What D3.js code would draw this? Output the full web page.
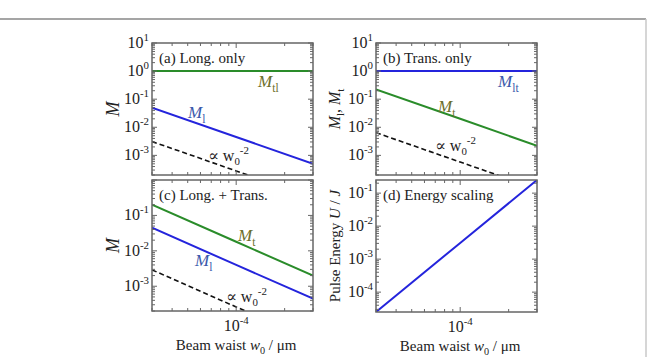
<!DOCTYPE html>
<html>
<head>
<meta charset="utf-8">
<script src="https://cdn.jsdelivr.net/npm/d3@7"></script>
<style>
  html, body { margin: 0; padding: 0; background: #fff; }
  svg { display: block; font-family: "Liberation Serif", "DejaVu Serif", serif; }
</style>
</head>
<body>
<svg id="chart" width="647" height="357"></svg>
<script>
// beam waist samples (x axis, shared by all panels)
const waist = [3e-5, 1e-4, 3e-4];
const xTickLabels = [1e-4];

// (a) longitudinal only
const longOnlyMtl = [1, 1, 1];
const longOnlyMl = [0.05, 4.5e-3, 5e-4];
const longOnlyRef = [3.1e-3, 2.8e-4, 3.1e-5];

// (b) transverse only
const transOnlyMlt = [1, 1, 1];
const transOnlyMt = [0.22, 0.02, 2.2e-3];
const transOnlyRef = [6.4e-3, 5.8e-4, 6.4e-5];

// (c) longitudinal + transverse
const combinedMt = [0.2, 0.018, 2e-3];
const combinedMl = [0.045, 4e-3, 4.5e-4];
const combinedRef = [2.9e-3, 2.6e-4, 2.9e-5];

// (d) energy scaling
const pulseEnergy = [2.5e-5, 3.1e-3, 0.25];

const yTicksTop = [1e1, 1e0, 1e-1, 1e-2, 1e-3];
const yTicksC = [1e-1, 1e-2, 1e-3];
const yTicksD = [1e-1, 1e-2, 1e-3, 1e-4];

const GREEN = "#2a8c2a";
const BLUE = "#2424dc";
const OLIVE = "#6c6e2a";
const BLUE_LABEL = "#3a58aa";
const FRAME = "#666";

const svg = d3.select("#chart");

// outer figure frame
svg.append("line").attr("x1", 0).attr("x2", 646).attr("y1", 19).attr("y2", 19)
  .attr("stroke", "#a5a5a5").attr("stroke-width", 2);
svg.append("line").attr("x1", 646).attr("x2", 646).attr("y1", 19).attr("y2", 357)
  .attr("stroke", "#c8c8c8").attr("stroke-width", 1.5);

// rich text: parts = [[text, kind]] kind: "", "i", "sub", "sup"
function richText(g, x, y, parts, opts = {}) {
  const size = opts.size || 15;
  const t = g.append("text").attr("x", x).attr("y", y)
    .attr("font-size", size)
    .attr("fill", opts.fill || "#222")
    .attr("text-anchor", opts.anchor || "start");
  if (opts.rotate) t.attr("transform", `rotate(-90,${x},${y})`);
  let shift = 0;
  parts.forEach(([txt, kind]) => {
    const s = t.append("tspan").text(txt);
    let target = 0;
    if (kind === "i") s.attr("font-style", "italic");
    if (kind === "sub") { target = size * 0.28; s.attr("font-size", size * 0.68); }
    if (kind === "sup") { target = -7; s.attr("font-size", size * 0.68); }
    if (target !== shift) { s.attr("dy", target - shift); shift = target; }
  });
  return t;
}

function expLabel(v) {
  return ["10", String(Math.round(Math.log10(v)))];
}

function drawPanel(p) {
  const x = d3.scaleLog().domain([3e-5, 3e-4]).range([p.x0, p.x1]);
  const y = d3.scaleLog().domain(p.yDomain).range([p.y1, p.y0]);
  const g = svg.append("g");
  const clipId = `clip-${p.id}`;
  svg.append("clipPath").attr("id", clipId).append("rect")
    .attr("x", p.x0).attr("y", p.y0).attr("width", p.x1 - p.x0).attr("height", p.y1 - p.y0);

  const line = d3.line().x((d) => x(d[0])).y((d) => y(d[1]));
  const lines = g.append("g").attr("clip-path", `url(#${clipId})`);
  p.series.forEach((s) => {
    lines.append("path")
      .datum(waist.map((w, i) => [w, s.values[i]]))
      .attr("d", line)
      .attr("fill", "none")
      .attr("stroke", s.color)
      .attr("stroke-width", s.dash ? 1.6 : 2)
      .attr("stroke-dasharray", s.dash ? "5,3" : null);
  });

  // ticks on all four sides, pointing in
  const xt = x.ticks();
  const yt = y.ticks();
  const isMajor = (v) => Math.abs(Math.log10(v) - Math.round(Math.log10(v))) < 1e-6;
  const ticks = g.append("g").attr("stroke", FRAME).attr("stroke-width", 1);
  xt.forEach((v) => {
    const len = isMajor(v) ? 5 : 3;
    const px = x(v);
    ticks.append("line").attr("x1", px).attr("x2", px).attr("y1", p.y1).attr("y2", p.y1 - len);
    ticks.append("line").attr("x1", px).attr("x2", px).attr("y1", p.y0).attr("y2", p.y0 + len);
  });
  yt.forEach((v) => {
    const len = isMajor(v) ? 5 : 3;
    const py = y(v);
    ticks.append("line").attr("x1", p.x0).attr("x2", p.x0 + len).attr("y1", py).attr("y2", py);
    ticks.append("line").attr("x1", p.x1).attr("x2", p.x1 - len).attr("y1", py).attr("y2", py);
  });

  g.append("rect")
    .attr("x", p.x0).attr("y", p.y0).attr("width", p.x1 - p.x0).attr("height", p.y1 - p.y0)
    .attr("fill", "none").attr("stroke", FRAME).attr("stroke-width", 1.5);

  // y tick labels
  p.yTicks.forEach((v) => {
    const [base, ex] = expLabel(v);
    richText(g, p.x0 - 3, y(v) + 5, [[base, ""], [ex, "sup"]], { anchor: "end", size: 16 });
  });

  if (p.xLabels) {
    xTickLabels.forEach((v) => {
      richText(g, x(v), p.y1 + 20, [["10", ""], [String(Math.round(Math.log10(v))), "sup"]], { anchor: "middle", size: 16 });
    });
    richText(g, x(1e-4), p.y1 + 39, [["Beam waist ", ""], ["w", "i"], ["0", "sub"], [" / \u03bcm", ""]], { anchor: "middle" });
  }

  richText(g, p.x0 + 7, p.y0 + 20, [[p.title, ""]]);
  p.labels.forEach((l) => richText(g, l.x, l.y, l.parts, { fill: l.fill || "#222", size: l.size || 15 }));
  richText(g, p.yTitleX, (p.y0 + p.y1) / 2, p.yTitle, { anchor: "middle", rotate: true, size: p.yTitleSize || 15 });
}

const propTo = [["\u221d w", ""], ["0", "sub"], ["-2", "sup"]];

drawPanel({
  id: "a", x0: 152, x1: 313, y0: 43, y1: 175, yDomain: [2e-4, 10], yTicks: yTicksTop,
  title: "(a) Long. only",
  series: [
    { values: longOnlyMtl, color: GREEN },
    { values: longOnlyMl, color: BLUE },
    { values: longOnlyRef, color: "#111", dash: true },
  ],
  labels: [
    { x: 258, y: 87, parts: [["M", "i"], ["tl", "sub"]], fill: OLIVE, size: 17 },
    { x: 188, y: 118, parts: [["M", "i"], ["l", "sub"]], fill: BLUE_LABEL, size: 17 },
    { x: 208, y: 161, parts: propTo, size: 16 },
  ],
  yTitle: [["M", "i"]], yTitleX: 119, yTitleSize: 18,
});

drawPanel({
  id: "b", x0: 376, x1: 537, y0: 43, y1: 175, yDomain: [2e-4, 10], yTicks: yTicksTop,
  title: "(b) Trans. only",
  series: [
    { values: transOnlyMlt, color: BLUE },
    { values: transOnlyMt, color: GREEN },
    { values: transOnlyRef, color: "#111", dash: true },
  ],
  labels: [
    { x: 498, y: 87, parts: [["M", "i"], ["lt", "sub"]], fill: BLUE_LABEL, size: 17 },
    { x: 438, y: 112, parts: [["M", "i"], ["t", "sub"]], fill: OLIVE, size: 17 },
    { x: 435, y: 151, parts: propTo, size: 16 },
  ],
  yTitle: [["M", "i"], ["l", "sub"], [", ", ""], ["M", "i"], ["t", "sub"]], yTitleX: 340, yTitleSize: 16,
});

drawPanel({
  id: "c", x0: 152, x1: 313, y0: 180, y1: 311, yDomain: [2e-4, 1], yTicks: yTicksC,
  title: "(c) Long. + Trans.", xLabels: true,
  series: [
    { values: combinedMt, color: GREEN },
    { values: combinedMl, color: BLUE },
    { values: combinedRef, color: "#111", dash: true },
  ],
  labels: [
    { x: 238, y: 241, parts: [["M", "i"], ["t", "sub"]], fill: OLIVE, size: 17 },
    { x: 195, y: 266, parts: [["M", "i"], ["l", "sub"]], fill: BLUE_LABEL, size: 17 },
    { x: 226, y: 302, parts: propTo, size: 16 },
  ],
  yTitle: [["M", "i"]], yTitleX: 119, yTitleSize: 18,
});

drawPanel({
  id: "d", x0: 376, x1: 537, y0: 180, y1: 312, yDomain: [2.5e-5, 0.25], yTicks: yTicksD,
  title: "(d) Energy scaling", xLabels: true,
  series: [
    { values: pulseEnergy, color: BLUE },
  ],
  labels: [],
  yTitle: [["Pulse Energy ", ""], ["U", "i"], [" / ", ""], ["J", "i"]], yTitleX: 340, yTitleSize: 15,
});
</script>
</body>
</html>
